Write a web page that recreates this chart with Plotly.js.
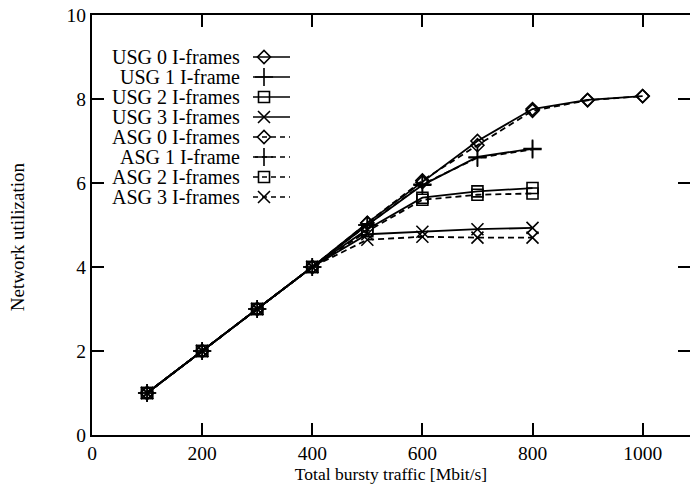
<!DOCTYPE html>
<html><head><meta charset="utf-8">
<script src="https://cdn.plot.ly/plotly-3.0.1.min.js"></script>
<style>html,body{margin:0;padding:0;background:#fff;}#plot{width:690px;height:489px;}</style>
</head><body><div id="plot"></div>
<script>
// ---- data ----
const xAll = [100, 200, 300, 400, 500, 600, 700, 800, 900, 1000];
const xTo800 = [100, 200, 300, 400, 500, 600, 700, 800];
const usg0 = [1, 2, 3, 4, 5.05, 6.02, 7.0, 7.76, 7.98, 8.07];
const usg1 = [1, 2, 3, 4, 5.0, 5.95, 6.62, 6.82];
const usg2 = [1, 2, 3, 4, 4.9, 5.65, 5.8, 5.88];
const usg3 = [1, 2, 3, 4, 4.78, 4.84, 4.9, 4.93];
const asg0 = [1, 2, 3, 4, 5.05, 6.06, 6.9, 7.72, 7.97, 8.07];
const asg1 = [1, 2, 3, 4, 5.0, 5.97, 6.6, 6.8];
const asg2 = [1, 2, 3, 4, 4.85, 5.6, 5.72, 5.75];
const asg3 = [1, 2, 3, 4, 4.65, 4.72, 4.7, 4.7];
const seriesNames = ['USG 0 I-frames','USG 1 I-frame','USG 2 I-frames','USG 3 I-frames',
                     'ASG 0 I-frames','ASG 1 I-frame','ASG 2 I-frames','ASG 3 I-frames'];
const xTickVals = [0, 200, 400, 600, 800, 1000];
const yTickVals = [0, 2, 4, 6, 8, 10];

// ---- styles ----
const symbols = ['diamond-open','cross-thin-open','square-open','x-thin-open'];
const sizes = [10, 13, 11, 12];
const xs = [xAll, xTo800, xTo800, xTo800, xAll, xTo800, xTo800, xTo800];
const ys = [usg0, usg1, usg2, usg3, asg0, asg1, asg2, asg3];
const FONT = 'Liberation Serif, Times New Roman, serif';

const traces = [];
for (let i = 0; i < 8; i++) {
  const k = i % 4, dashed = i >= 4;
  traces.push({
    x: xs[i], y: ys[i], type: 'scatter', mode: 'lines+markers', showlegend: false,
    name: seriesNames[i],
    line: {color: '#000', width: 1.8, dash: dashed ? '6px,4px' : 'solid'},
    marker: {symbol: symbols[k], size: sizes[k], color: '#000', line: {color: '#000', width: 1.6}}
  });
}

// ---- custom legend (gnuplot style: text right, sample on the right) ----
const L = 92, T = 15, W = 690, H = 489, B = 435;
const annotations = [];
for (let i = 0; i < 8; i++) {
  const k = i % 4, dashed = i >= 4;
  const rowY = 57 + 20 * i;
  traces.push({
    x: [253, 290], y: [rowY, rowY], xaxis: 'x2', yaxis: 'y2', mode: 'lines', showlegend: false,
    hoverinfo: 'skip', line: {color: '#000', width: 1.5, dash: dashed ? '5px,4px' : 'solid'}
  });
  traces.push({
    x: [264], y: [rowY], xaxis: 'x2', yaxis: 'y2', mode: 'markers', showlegend: false,
    hoverinfo: 'skip',
    marker: {symbol: symbols[k], size: sizes[k], color: '#000', line: {color: '#000', width: 1.6}}
  });
  annotations.push({
    xref: 'x2', yref: 'y2', x: 242, y: rowY, xanchor: 'right', yanchor: 'middle',
    text: seriesNames[i], showarrow: false, font: {family: FONT, size: 20, color: '#000'}
  });
}
annotations.push({
  xref: 'paper', yref: 'paper', x: -0.125, y: (B - 237) / (B - T), xanchor: 'center', yanchor: 'middle',
  textangle: -90, text: 'Network utilization', showarrow: false,
  font: {family: FONT, size: 19, color: '#000'}
});

const layout = {
  width: W, height: H,
  margin: {l: L, r: 0, t: T, b: H - B, pad: 0},
  paper_bgcolor: '#fff', plot_bgcolor: '#fff',
  font: {family: FONT, size: 19, color: '#000'},
  showlegend: false,
  xaxis: {
    range: [0, 1086], tickvals: xTickVals, ticktext: xTickVals.map(String),
    ticks: 'inside', ticklen: 12, tickwidth: 2, tickcolor: '#000',
    showline: true, linecolor: '#000', linewidth: 2, mirror: 'ticks',
    showgrid: false, zeroline: false,
    title: {text: 'Total bursty traffic [Mbit/s]', standoff: 2, font: {family: FONT, size: 17.5, color: '#000'}},
    tickfont: {family: FONT, size: 19.5, color: '#000'}
  },
  yaxis: {
    range: [0, 10], tickvals: yTickVals, ticktext: yTickVals.map(String),
    ticks: 'inside', ticklen: 12, tickwidth: 2, tickcolor: '#000',
    showline: true, linecolor: '#000', linewidth: 2, mirror: 'ticks',
    showgrid: false, zeroline: false,
    tickfont: {family: FONT, size: 19.5, color: '#000'}
  },
  xaxis2: {overlaying: 'x', range: [L, W], visible: false, fixedrange: true},
  yaxis2: {overlaying: 'y', range: [B, T], visible: false, fixedrange: true},
  annotations: annotations
};

Plotly.newPlot('plot', traces, layout, {staticPlot: true, displayModeBar: false});
</script></body></html>
